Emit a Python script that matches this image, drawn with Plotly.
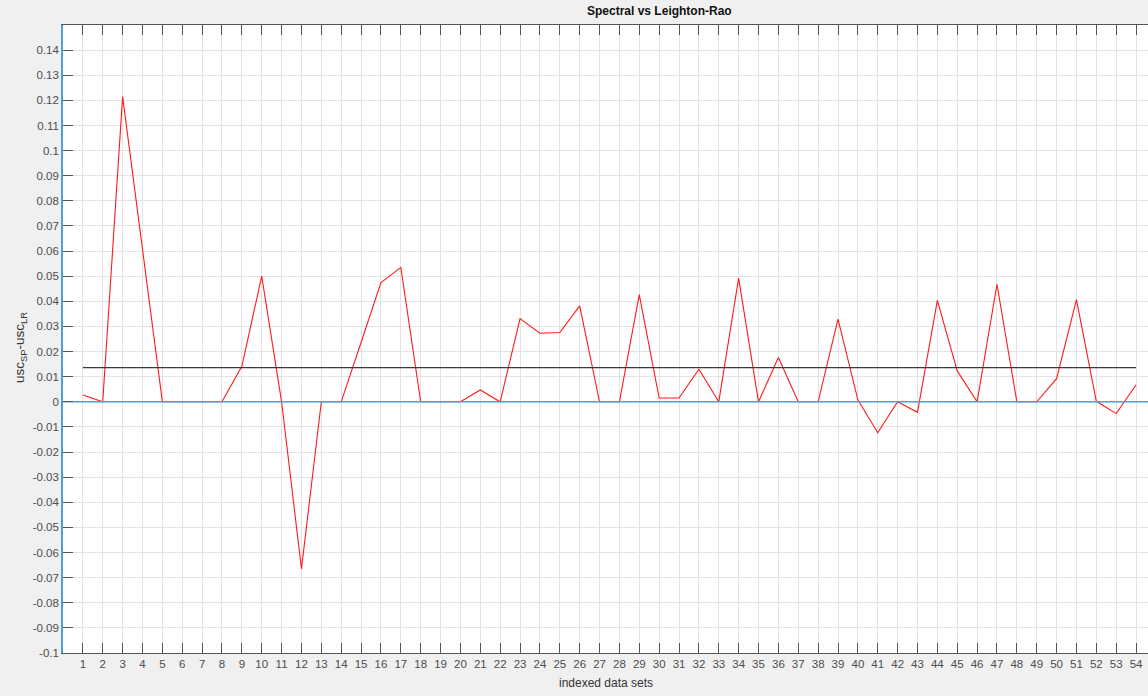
import numpy as np
import plotly.graph_objects as go

# ---- data ----
index = list(range(1, 55))
diff_values = [
    0.0027, 0.0, 0.1215, 0.061, 0.0, 0.0, 0.0, 0.0, 0.0141, 0.050,
    0.0, -0.0665, 0.0, 0.0, 0.0236, 0.0475, 0.0535, 0.0, 0.0, 0.0,
    0.0047, 0.0, 0.0331, 0.0273, 0.0276, 0.0382, 0.0, 0.0, 0.0427, 0.0015,
    0.0015, 0.013, 0.0, 0.0492, 0.0, 0.0176, 0.0, 0.0, 0.0329, 0.0008,
    -0.0123, 0.0, -0.0042, 0.0404, 0.0123, 0.0, 0.0468, 0.0, 0.0, 0.0092,
    0.0407, 0.0002, -0.0047, 0.0068,
]
mean_value = float(np.mean(diff_values))

ytick_vals = [round(-0.1 + 0.01 * k, 2) for k in range(25)]
ytick_text = ["%g" % v if abs(v) > 1e-9 else "0" for v in ytick_vals]
xtick_vals = index
xtick_text = [str(i) for i in index]

title_text = "<b>Spectral vs Leighton-Rao</b>"
xlabel = "indexed data sets"
ylabel = "usc<sub>SP</sub>-usc<sub>LR</sub>"

font_family = "Liberation Sans, Arial, sans-serif"
tick_color = "#4d4d4d"
blue = "#4f9fd6"

fig = go.Figure()
fig.add_trace(go.Scatter(x=index, y=diff_values, mode="lines",
                         line=dict(color="#ff1a1a", width=1.1),
                         showlegend=False, hoverinfo="x+y"))
fig.add_trace(go.Scatter(x=[index[0], index[-1]], y=[mean_value, mean_value],
                         mode="lines", line=dict(color="#3a3a3a", width=1.3),
                         showlegend=False))
fig.add_trace(go.Scatter(x=[0, 60], y=[0, 0], mode="lines",
                         line=dict(color=blue, width=1.6),
                         showlegend=False, hoverinfo="skip"))

fig.update_layout(
    width=1148, height=696,
    paper_bgcolor="#f0f0f0", plot_bgcolor="white",
    margin=dict(l=63, r=0, t=25, b=43),
    font=dict(family=font_family, size=11.5, color=tick_color),
    showlegend=False,
)
fig.update_xaxes(
    range=[0, 54.6], tickmode="array", tickvals=xtick_vals, ticktext=xtick_text,
    ticks="inside", ticklen=10, tickwidth=1, tickcolor="#555555",
    showline=True, linecolor="#555555", linewidth=1.3, mirror="allticks",
    showgrid=True, gridcolor="#e3e3e3", gridwidth=1, zeroline=False,
    tickfont=dict(size=11.5, color=tick_color),
)
fig.update_yaxes(
    range=[-0.1, 0.15], tickmode="array", tickvals=ytick_vals, ticktext=ytick_text,
    ticks="inside", ticklen=10, tickwidth=1, tickcolor="#555555",
    showline=True, linecolor=blue, linewidth=1.6,
    showgrid=True, gridcolor="#e3e3e3", gridwidth=1, zeroline=False,
    tickfont=dict(size=11.5, color=tick_color),
)

fig.add_annotation(text=title_text, xref="paper", yref="paper",
                   x=(659 - 63) / 1085, y=1 + (25 - 11) / 628,
                   xanchor="center", yanchor="middle", showarrow=False,
                   font=dict(size=12, color="#111111", family=font_family))
fig.add_annotation(text=xlabel, xref="paper", yref="paper",
                   x=(606 - 63) / 1085, y=-(683 - 653) / 628,
                   xanchor="center", yanchor="middle", showarrow=False,
                   font=dict(size=12, color="#333333", family=font_family))
fig.add_annotation(text=ylabel, xref="paper", yref="paper",
                   x=-(63 - 20) / 1085, y=(653 - 348) / 628,
                   xanchor="center", yanchor="middle", showarrow=False,
                   textangle=-90,
                   font=dict(size=13.5, color="#333333", family=font_family))

fig.write_html(
    "out.html",
    config={"displayModeBar": False},
    post_script="document.body.style.margin='0';"
                "document.body.style.padding='0';"
                "document.body.style.background='#f0f0f0';",
)
